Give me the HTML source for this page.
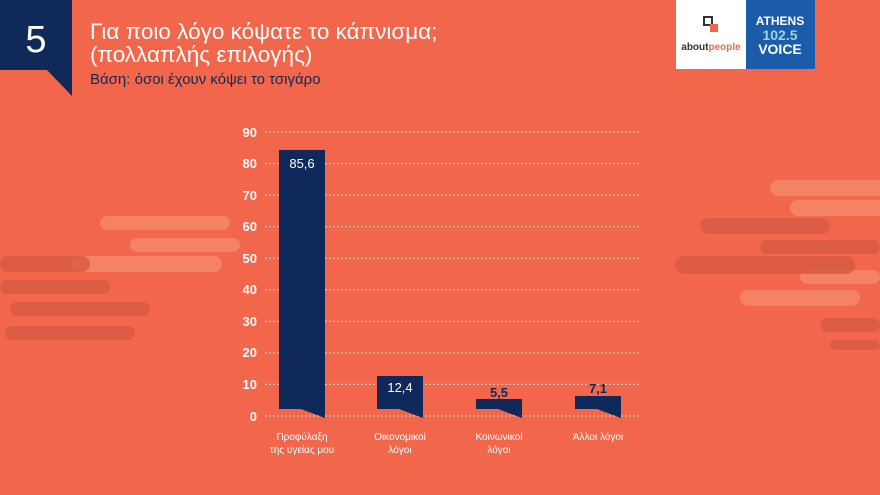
<!DOCTYPE html>
<html><head><meta charset="utf-8"><style>
body{margin:0;width:880px;height:495px;overflow:hidden;background:#f2664b;font-family:"Liberation Sans","DejaVu Sans",sans-serif;position:relative}
.a{position:absolute}
</style></head><body>
<svg class="a" style="left:0;top:0" width="880" height="495">
<g fill="#f58a6c" opacity="0.8">
<rect x="100" y="216" width="130" height="14" rx="7"/>
<rect x="130" y="238" width="110" height="14" rx="7"/>
<rect x="72" y="256" width="150" height="16" rx="8"/>
<rect x="770" y="180" width="120" height="16" rx="8"/>
<rect x="790" y="200" width="100" height="16" rx="8"/>
<rect x="740" y="290" width="120" height="16" rx="8"/>
<rect x="800" y="270" width="80" height="14" rx="7"/>
</g>
<g fill="#d95a44" opacity="0.8">
<rect x="0" y="256" width="90" height="16" rx="8"/>
<rect x="0" y="280" width="110" height="14" rx="7"/>
<rect x="10" y="302" width="140" height="14" rx="7"/>
<rect x="5" y="326" width="130" height="14" rx="7"/>
<rect x="700" y="218" width="130" height="16" rx="8"/>
<rect x="675" y="256" width="180" height="18" rx="9"/>
<rect x="760" y="240" width="120" height="14" rx="7"/>
<rect x="820" y="318" width="60" height="14" rx="7"/>
<rect x="830" y="340" width="50" height="10" rx="5"/>
</g>
<polygon points="0,0 72,0 72,96 47,70 0,70" fill="#0f2a5a"/>
<text x="36" y="52" fill="#fff" font-size="38" text-anchor="middle">5</text>
<text x="90" y="39" fill="#fff" font-size="22.5">Για ποιο λόγο κόψατε το κάπνισμα;</text>
<text x="90" y="62" fill="#fff" font-size="22.5">(πολλαπλής επιλογής)</text>
<text x="90" y="84" fill="#0f2a5a" font-size="15">Βάση: όσοι έχουν κόψει το τσιγάρο</text>
<rect x="676" y="0" width="70" height="69" fill="#fff"/>
<rect x="704" y="17" width="8" height="8" fill="none" stroke="#333" stroke-width="2"/>
<rect x="710" y="24" width="8" height="8" fill="#f2664b"/>
<text x="711" y="50" fill="#333" font-size="10" font-weight="bold" text-anchor="middle">about<tspan fill="#f2664b">people</tspan></text>
<rect x="746" y="0" width="69" height="69" fill="#1a5ca8"/>
<text x="780" y="25" fill="#fff" font-size="12" font-weight="bold" text-anchor="middle">ATHENS</text>
<text x="780" y="40" fill="#9ad4ea" font-size="14" font-weight="bold" text-anchor="middle">102.5</text>
<text x="780" y="54" fill="#fff" font-size="14" font-weight="bold" text-anchor="middle">VOICE</text>
<g stroke="#fbd0c4" stroke-width="1" stroke-dasharray="2,2">
<line x1="265" x2="640" y1="132" y2="132"/><line x1="265" x2="640" y1="163.6" y2="163.6"/>
<line x1="265" x2="640" y1="195.1" y2="195.1"/><line x1="265" x2="640" y1="226.7" y2="226.7"/>
<line x1="265" x2="640" y1="258.2" y2="258.2"/><line x1="265" x2="640" y1="289.8" y2="289.8"/>
<line x1="265" x2="640" y1="321.3" y2="321.3"/><line x1="265" x2="640" y1="352.9" y2="352.9"/>
<line x1="265" x2="640" y1="384.4" y2="384.4"/><line x1="265" x2="640" y1="416" y2="416"/>
</g>
<g fill="#fff" font-size="13" font-weight="bold" text-anchor="end">
<text x="257" y="137">90</text><text x="257" y="168">80</text><text x="257" y="200">70</text>
<text x="257" y="231">60</text><text x="257" y="263">50</text><text x="257" y="294">40</text>
<text x="257" y="326">30</text><text x="257" y="357">20</text><text x="257" y="389">10</text>
<text x="257" y="421">0</text>
</g>
<g fill="#0f2a5a">
<polygon points="279,150 325,150 325,418 301,409 279,409"/>
<polygon points="377,376 423,376 423,418 399,409 377,409"/>
<polygon points="476,399 522,399 522,418 498,409 476,409"/>
<polygon points="575,396 621,396 621,418 597,409 575,409"/>
</g>
<g font-size="13" text-anchor="middle">
<text x="302" y="168" fill="#fff">85,6</text>
<text x="400" y="392" fill="#fff">12,4</text>
<text x="499" y="397" fill="#0f2a5a" font-weight="bold">5,5</text>
<text x="598" y="393" fill="#0f2a5a" font-weight="bold">7,1</text>
</g>
<g fill="#fff" font-size="10" text-anchor="middle">
<text x="302" y="440">Προφύλαξη</text><text x="302" y="453">της υγείας μου</text>
<text x="400" y="440">Οικονομικοί</text><text x="400" y="453">λόγοι</text>
<text x="499" y="440">Κοινωνικοί</text><text x="499" y="453">λόγοι</text>
<text x="598" y="440">Άλλοι λόγοι</text>
</g>
</svg>
</body></html>
